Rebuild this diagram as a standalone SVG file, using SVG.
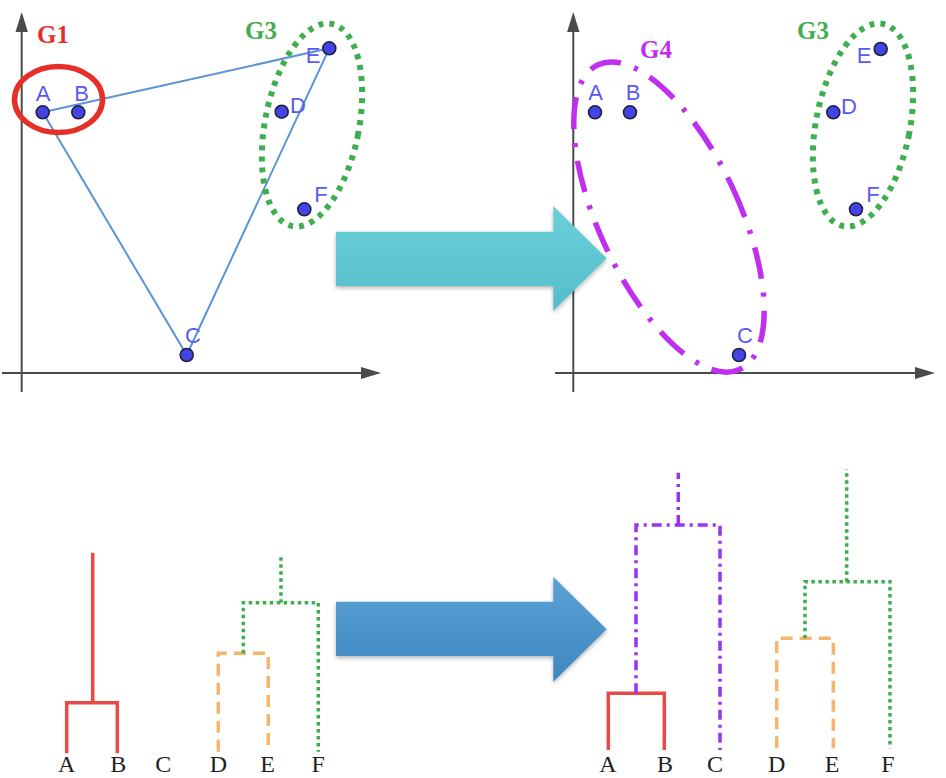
<svg xmlns="http://www.w3.org/2000/svg" width="946" height="778" viewBox="0 0 946 778">
<style>
.axis{stroke:#4a4a4a;stroke-width:2;fill:none}
.ahead{fill:#4a4a4a}
.pt{fill:#4444e6;stroke:#202040;stroke-width:1.6}
.plbl{font-family:"Liberation Sans","DejaVu Sans",sans-serif;font-size:22px;fill:#5a5af2;text-anchor:middle}
.glbl{font-family:"Liberation Serif","DejaVu Serif",serif;font-size:25px;font-weight:bold}
.tri{stroke:#5b94d4;stroke-width:2;fill:none}
.g3{fill:none;stroke:#3fae4e;stroke-width:6;stroke-dasharray:5 6}
.dred{fill:none;stroke:#ea4a44;stroke-width:3.5;stroke-linejoin:miter}
.dorg{fill:none;stroke:#f6b46c;stroke-width:3.5;stroke-dasharray:12 7}
.dgrn{fill:none;stroke:#3fae4e;stroke-width:3.5;stroke-dasharray:3.5 3.5}
.dpur{fill:none;stroke:#9a32f2;stroke-width:3.5;stroke-dasharray:10 5 3 5}
.dlbl{font-family:"Liberation Serif","DejaVu Serif",serif;font-size:24px;fill:#1e1e1e;text-anchor:middle}
</style>
<defs>
<linearGradient id="cyan" x1="0" y1="0" x2="0" y2="1">
<stop offset="0" stop-color="#6bd0d9"/>
<stop offset="1" stop-color="#55bdc9"/>
</linearGradient>
<linearGradient id="blue" x1="0" y1="0" x2="0" y2="1">
<stop offset="0" stop-color="#5ba2d6"/>
<stop offset="1" stop-color="#3e86bf"/>
</linearGradient>
<filter id="sh" x="-10%" y="-10%" width="120%" height="130%">
<feDropShadow dx="0" dy="2" stdDeviation="2" flood-color="#000" flood-opacity="0.3"/>
</filter>
</defs>

<!-- Top-left panel axes -->
<g id="axes-left">
<line class="axis" x1="21.7" y1="28" x2="21.7" y2="392"/>
<polygon class="ahead" points="21.7,12 15.5,32 27.9,32"/>
<line class="axis" x1="2" y1="373" x2="364" y2="373"/>
<polygon class="ahead" points="381,373 361,367 361,379"/>
</g>

<!-- Top-right panel axes -->
<g id="axes-right">
<line class="axis" x1="573.3" y1="28" x2="573.3" y2="392"/>
<polygon class="ahead" points="573.3,12 567.1,32 579.5,32"/>
<line class="axis" x1="555" y1="373" x2="918" y2="373"/>
<polygon class="ahead" points="935,373 915,367 915,379"/>
</g>

<!-- connectors: triangle in left panel -->
<g id="connectors">
<line class="tri" x1="42.7" y1="112.3" x2="329.3" y2="48.3"/>
<line class="tri" x1="329.3" y1="48.3" x2="186.7" y2="355"/>
<line class="tri" x1="186.7" y1="355" x2="42.7" y2="112.3"/>
</g>

<!-- Left panel groups -->
<g id="G1-left">
<ellipse cx="58.5" cy="99.5" rx="44" ry="33" fill="none" stroke="#e5302a" stroke-width="5.5"/>
<text class="glbl" x="37" y="43" fill="#e5302a">G1</text>
</g>
<g id="G3-left">
<ellipse cx="312" cy="125" rx="47" ry="103" transform="rotate(11 312 125)" class="g3"/>
<text class="glbl" x="245" y="39" fill="#3fae4e">G3</text>
</g>

<g id="L-A"><circle class="pt" cx="42.7" cy="112.3" r="6.5"/><text class="plbl" x="43" y="101">A</text></g>
<g id="L-B"><circle class="pt" cx="78.3" cy="112.3" r="6.5"/><text class="plbl" x="81.5" y="101">B</text></g>
<g id="L-C"><circle class="pt" cx="186.7" cy="355" r="6.5"/><text class="plbl" x="193" y="343">C</text></g>
<g id="L-D"><circle class="pt" cx="281.7" cy="111.7" r="6.5"/><text class="plbl" x="298" y="113">D</text></g>
<g id="L-E"><circle class="pt" cx="329.3" cy="48.3" r="6.5"/><text class="plbl" x="313" y="63">E</text></g>
<g id="L-F"><circle class="pt" cx="304.3" cy="209.3" r="6.5"/><text class="plbl" x="321" y="202">F</text></g>

<!-- Right panel groups -->
<g id="G4-right">
<ellipse cx="669" cy="217" rx="70" ry="168" transform="rotate(-25 669 217)" fill="none" stroke="#c02ff0" stroke-width="5.5" stroke-dasharray="32 14 4 14"/>
<text class="glbl" x="640" y="58" fill="#c02ff0">G4</text>
</g>
<g id="G3-right">
<ellipse cx="863" cy="125" rx="47" ry="103" transform="rotate(11 863 125)" class="g3"/>
<text class="glbl" x="797" y="39" fill="#3fae4e">G3</text>
</g>

<g id="R-A"><circle class="pt" cx="595" cy="112.3" r="6.5"/><text class="plbl" x="595.7" y="100">A</text></g>
<g id="R-B"><circle class="pt" cx="630" cy="112.3" r="6.5"/><text class="plbl" x="633" y="100">B</text></g>
<g id="R-C"><circle class="pt" cx="739" cy="355" r="6.5"/><text class="plbl" x="745" y="343">C</text></g>
<g id="R-D"><circle class="pt" cx="833.3" cy="112.3" r="6.5"/><text class="plbl" x="849" y="114">D</text></g>
<g id="R-E"><circle class="pt" cx="880.7" cy="49" r="6.5"/><text class="plbl" x="864" y="63">E</text></g>
<g id="R-F"><circle class="pt" cx="856" cy="209.3" r="6.5"/><text class="plbl" x="873" y="202">F</text></g>

<!-- Arrows -->
<g id="arrow-top" filter="url(#sh)">
<polygon fill="url(#cyan)" points="336,231.7 553.3,231.7 553.3,206 606.7,258.3 553.3,310.7 553.3,286 336,286"/>
</g>
<g id="arrow-bottom" filter="url(#sh)">
<polygon fill="url(#blue)" points="336,601.7 553.3,601.7 553.3,576.7 606.7,629.3 553.3,681.7 553.3,656 336,656"/>
</g>

<!-- Bottom-left dendrogram -->
<g id="dendro-left">
<path class="dred" d="M66.7,753.3 V702.7 H117.3 V753.3 M92.7,702.7 V552.7"/>
<path class="dorg" d="M218.3,751.7 V653.3 H268.3 V751.7"/>
<path class="dgrn" d="M243.3,653.3 V602.7 H318.3 V751.7 M281,602.7 V554"/>
<text class="dlbl" x="66.7" y="772">A</text>
<text class="dlbl" x="118.3" y="772">B</text>
<text class="dlbl" x="163.3" y="772">C</text>
<text class="dlbl" x="218.3" y="772">D</text>
<text class="dlbl" x="267.7" y="772">E</text>
<text class="dlbl" x="318.3" y="772">F</text>
</g>

<!-- Bottom-right dendrogram -->
<g id="dendro-right">
<path class="dred" d="M608.3,750 V693.3 H664.3 V750"/>
<path class="dpur" d="M636,693.3 V525 H720 V750 M678.3,525 V472.7"/>
<path class="dorg" d="M776.7,748.3 V638.3 H833.3 V748.3"/>
<path class="dgrn" d="M805,638.3 V581.7 H890 V748.3 M846.7,581.7 V469.3"/>
<text class="dlbl" x="608" y="772">A</text>
<text class="dlbl" x="665" y="772">B</text>
<text class="dlbl" x="715" y="772">C</text>
<text class="dlbl" x="776.7" y="772">D</text>
<text class="dlbl" x="832" y="772">E</text>
<text class="dlbl" x="888" y="772">F</text>
</g>
</svg>
